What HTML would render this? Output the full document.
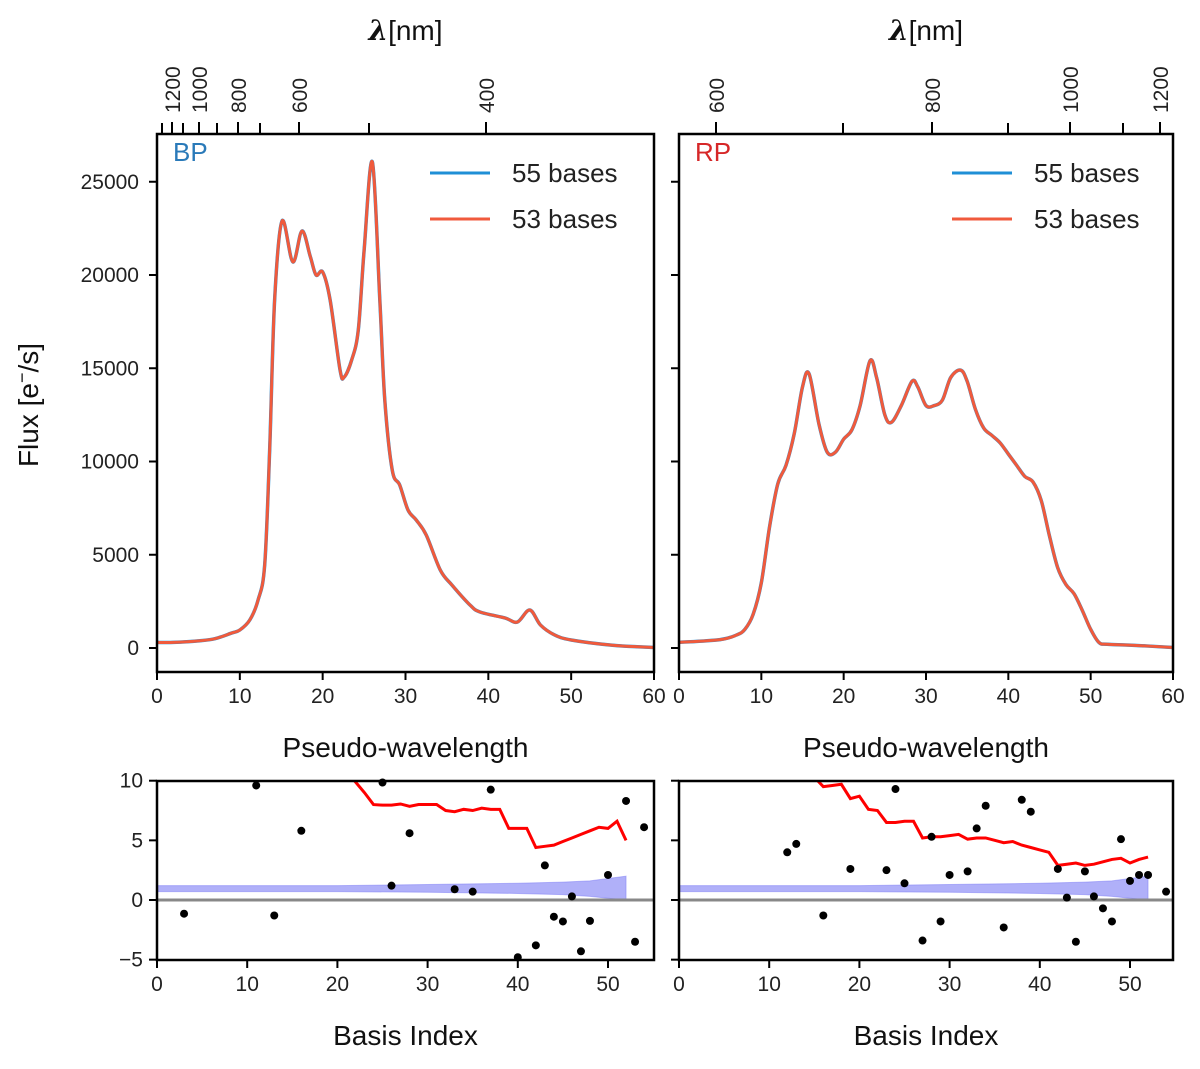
<!DOCTYPE html>
<html><head><meta charset="utf-8"><style>
body{margin:0;background:#fff}
svg{display:block;font-family:"Liberation Sans",sans-serif}
</style></head><body>
<svg id="fig" width="1200" height="1069" viewBox="0 0 1200 1069">
<g id="root"></g>
</svg>
<script>
// ---- Data ----
const bpX=[0,2,5,7,9,10,11.2,12.2,13,13.6,14.2,15.1,16.4,17.5,18.5,19.2,20,20.9,22.1,22.6,23.5,24.3,25,26,26.9,27.5,28.4,29.3,30.3,31.3,32.5,34.2,35.6,37.8,39,42,43.5,45,46.3,48,50,55,60];
const bpY=[300,300,380,500,800,965,1500,2570,4450,10600,18660,22900,20700,22360,21000,20000,20160,18660,14900,14530,15440,17050,21300,26060,18660,13300,9540,8740,7400,6860,6060,4180,3380,2300,1930,1610,1390,2040,1230,700,430,150,30];
const rpX=[0,5,7,8,9,10,11,12,13,14,15,15.8,17,18,19,20,21,22,23.2,24,25,25.8,27,28.3,29,30,31,32,33,34.2,35,36,37,38,39,40,41,42,43,44,45,46,47,48,49,50,51,52,55,60];
const rpY=[300,450,700,1000,1800,3500,6500,8800,9800,11500,14000,14700,12000,10500,10500,11200,11700,13000,15400,14500,12500,12100,13000,14300,14000,13000,13000,13300,14500,14900,14300,12800,11800,11400,11000,10400,9800,9200,8900,7900,6000,4300,3400,2900,2000,1000,300,200,150,30];
const bpLabelsNm=[1200,1000,800,600,400];const bpMajorPx=[172,199,238,299,486];const bpMinorPx=[162,183,217,260,369];
const rpLabelsNm=[600,800,1000,1200];const rpMajorPx=[716,932,1070,1160];const rpMinorPx=[843,1008,1123];
const fluxTicks=[0,5000,10000,15000,20000,25000];
const pwTicks=[0,10,20,30,40,50,60];
const basisTicks=[0,10,20,30,40,50];
const coefTicks=[-5,0,5,10];
const bpPtsX=[3,11,13,16,25,26,28,33,35,37,40,42,43,44,45,46,47,48,50,52,53,54];
const bpPtsY=[-1.15,9.6,-1.3,5.8,9.85,1.2,5.6,0.9,0.7,9.25,-4.8,-3.8,2.9,-1.4,-1.8,0.3,-4.3,-1.75,2.1,8.3,-3.5,6.1];
const rpPtsX=[12,13,16,19,23,24,25,27,28,29,30,32,33,34,36,38,39,42,43,44,45,46,47,48,49,50,51,52,54];
const rpPtsY=[4.0,4.7,-1.3,2.6,2.5,9.3,1.4,-3.4,5.3,-1.8,2.1,2.4,6.0,7.9,-2.3,8.4,7.4,2.6,0.2,-3.5,2.4,0.3,-0.7,-1.8,5.1,1.6,2.1,2.1,0.7];
const bpRedX=[21,22,23,24,25,26,27,28,29,30,31,32,33,34,35,36,37,38,39,40,41,42,43,44,45,46,47,48,49,50,51,52];
const bpRedY=[10.8,9.9,9.0,8.0,7.95,7.95,8.05,7.85,8.0,8.0,8.0,7.5,7.4,7.6,7.5,7.7,7.6,7.6,6.0,6.0,6.0,4.4,4.5,4.6,4.9,5.2,5.5,5.8,6.1,6.0,6.6,5.0];
const rpRedX=[15,16,17,18,19,20,21,22,23,24,25,26,27,28,29,30,31,32,33,34,35,36,37,38,39,40,41,42,43,44,45,46,47,48,49,50,51,52];
const rpRedY=[10.3,9.5,9.6,9.7,8.5,8.7,7.6,7.5,6.5,6.5,6.6,6.6,5.2,5.3,5.3,5.4,5.5,5.1,5.2,5.2,5.0,4.8,4.9,4.6,4.4,4.2,4.0,2.9,3.0,3.1,2.9,3.0,3.2,3.4,3.5,3.1,3.4,3.6];
const bandX=[0,10,20,30,40,45,48,50,52];
const bandUp=[1.2,1.2,1.2,1.3,1.4,1.5,1.6,1.8,2.0];
const bandLo=[0.7,0.7,0.7,0.65,0.55,0.45,0.3,0.15,0.0];

const NS="http://www.w3.org/2000/svg";
const root=document.getElementById('root');
function mk(tag,attrs,parent,text){const e=document.createElementNS(NS,tag);for(const k in attrs)e.setAttribute(k,attrs[k]);if(text!==undefined)e.textContent=text;(parent||root).appendChild(e);return e;}
function smooth(pts){let d=`M${pts[0][0]},${pts[0][1]}`;for(let i=0;i<pts.length-1;i++){const p0=pts[Math.max(0,i-1)],p1=pts[i],p2=pts[i+1],p3=pts[Math.min(pts.length-1,i+2)];const c1=[p1[0]+(p2[0]-p0[0])/6,p1[1]+(p2[1]-p0[1])/6],c2=[p2[0]-(p3[0]-p1[0])/6,p2[1]-(p3[1]-p1[1])/6];d+=`C${c1[0]},${c1[1]} ${c2[0]},${c2[1]} ${p2[0]},${p2[1]}`;}return d;}

function topPanel(x0,x1,name,X,Y,lab,labCol,majPx,majLab,minPx,showY){
  const y0=134,y1=672;
  const sx=v=>x0+(x1-x0)*v/60, sy=v=>648-v*0.01865;
  const g=mk('g',{});
  
  const cid='clip'+name;const cp=mk('clipPath',{id:cid},g);mk('rect',{x:x0,y:y0,width:x1-x0,height:y1-y0},cp);
  const pts=X.map((v,i)=>[sx(v),sy(Y[i])]);
  const b=mk('path',{d:smooth(pts),fill:'none',stroke:'#1f8fd6','stroke-width':3.5,'clip-path':`url(#${cid})`},g);
  
  const o=mk('path',{d:smooth(pts),fill:'none',stroke:'#f05a3c','stroke-width':3,'clip-path':`url(#${cid})`},g);
  
  mk('rect',{x:x0,y:y0,width:x1-x0,height:y1-y0,fill:'none',stroke:'#000','stroke-width':2.5},g);
  pwTicks.forEach(t=>{const x=sx(t);mk('line',{x1:x,x2:x,y1:y1,y2:y1+8,stroke:'#000','stroke-width':2},g);mk('text',{x:x,y:y1+31,'font-size':21,'text-anchor':'middle',fill:'#222'},g,String(t));});
  fluxTicks.forEach(t=>{const y=sy(t);mk('line',{x1:x0-8,x2:x0,y1:y,y2:y,stroke:'#000','stroke-width':2},g);if(showY)mk('text',{x:x0-18,y:y+7,'font-size':21,'text-anchor':'end',fill:'#222'},g,String(t));});
  majPx.forEach((x,i)=>{mk('line',{x1:x,x2:x,y1:y0-12,y2:y0,stroke:'#000','stroke-width':2},g);mk('text',{x:0,y:0,'font-size':21,'text-anchor':'start',fill:'#222',transform:`translate(${x+8},${y0-21}) rotate(-90)`},g,String(majLab[i]));});
  minPx.forEach(x=>mk('line',{x1:x,x2:x,y1:y0-11,y2:y0,stroke:'#000','stroke-width':2},g));
  const t=mk('text',{x:(x0+x1)/2,y:40,'font-size':28,'text-anchor':'middle',fill:'#111'},g);
  mk('tspan',{'font-style':'italic','font-weight':'bold','font-family':'"DejaVu Serif",serif'},t,'λ');mk('tspan',{},t,'[nm]');
  
  const pl=mk('text',{x:(x0+x1)/2,y:757,'font-size':28,'text-anchor':'middle',fill:'#111'},g,'Pseudo-wavelength');
  
  const bl=mk('text',{x:x0+16,y:161,'font-size':26,fill:labCol},g,lab);
  
  const lg=mk('g',{},g);
  mk('line',{x1:x0+273,x2:x0+333,y1:173,y2:173,stroke:'#1f8fd6','stroke-width':3},lg);
  mk('text',{x:x0+355,y:182,'font-size':26,fill:'#222'},lg,'55 bases');
  mk('line',{x1:x0+273,x2:x0+333,y1:219,y2:219,stroke:'#f05a3c','stroke-width':3},lg);
  mk('text',{x:x0+355,y:228,'font-size':26,fill:'#222'},lg,'53 bases');
}
function botPanel(x0,x1,name,PX,PY,RX,RY,showY){
  const y0=781,y1=960;
  const sx=v=>x0+v*9.02, sy=v=>900-v*11.93;
  const g=mk('g',{});
  const cid='bclip'+name;const cp=mk('clipPath',{id:cid},g);mk('rect',{x:x0,y:y0,width:x1-x0,height:y1-y0},cp);
  const cg=mk('g',{'clip-path':`url(#${cid})`},g);
  let d='M'+bandX.map((v,i)=>`${sx(v)},${sy(bandUp[i])}`).join('L');
  for(let i=bandX.length-1;i>=0;i--)d+=`L${sx(bandX[i])},${sy(bandLo[i])}`;
  const band=mk('path',{d:d+'Z',fill:'#7b7bf5','fill-opacity':0.6,stroke:'#7b7bf5','stroke-opacity':0.5},cg);
  
  mk('line',{x1:x0,x2:x1,y1:sy(0),y2:sy(0),stroke:'#888','stroke-width':3},cg);
  const rl=mk('polyline',{points:RX.map((v,i)=>`${sx(v)},${sy(RY[i])}`).join(' '),fill:'none',stroke:'#f00','stroke-width':3},cg);
  
  PX.forEach((v,i)=>{const c=mk('circle',{cx:sx(v),cy:sy(PY[i]),r:4,fill:'#000'},g);});
  mk('rect',{x:x0,y:y0,width:x1-x0,height:y1-y0,fill:'none',stroke:'#000','stroke-width':2.5},g);
  basisTicks.forEach(t=>{const x=sx(t);mk('line',{x1:x,x2:x,y1:y1,y2:y1+8,stroke:'#000','stroke-width':2},g);mk('text',{x:x,y:y1+31,'font-size':21,'text-anchor':'middle',fill:'#222'},g,String(t));});
  coefTicks.forEach(t=>{const y=sy(t);mk('line',{x1:x0-8,x2:x0,y1:y,y2:y,stroke:'#000','stroke-width':2},g);if(showY)mk('text',{x:x0-14,y:y+7,'font-size':21,'text-anchor':'end',fill:'#222'},g,(t<0?'\u2212'+(-t):String(t)));});
  const xl=mk('text',{x:(x0+x1)/2,y:1045,'font-size':28,'text-anchor':'middle',fill:'#111'},g,'Basis Index');
  
}
topPanel(157,654,'bp',bpX,bpY,'BP','#2a7ab9',bpMajorPx,bpLabelsNm,bpMinorPx,true);
topPanel(679,1173,'rp',rpX,rpY,'RP','#d62728',rpMajorPx,rpLabelsNm,rpMinorPx,false);
botPanel(157,654,'bp',bpPtsX,bpPtsY,bpRedX,bpRedY,true);
botPanel(679,1173,'rp',rpPtsX,rpPtsY,rpRedX,rpRedY,false);
const yl=mk('text',{x:0,y:0,'font-size':28,'text-anchor':'middle',fill:'#111',transform:'translate(38,405) rotate(-90)'});


mk('tspan',{},yl,'Flux [e');mk('tspan',{'font-size':18,dy:-10},yl,'\u2212');mk('tspan',{dy:10},yl,'/s]');
</script>
</body></html>
